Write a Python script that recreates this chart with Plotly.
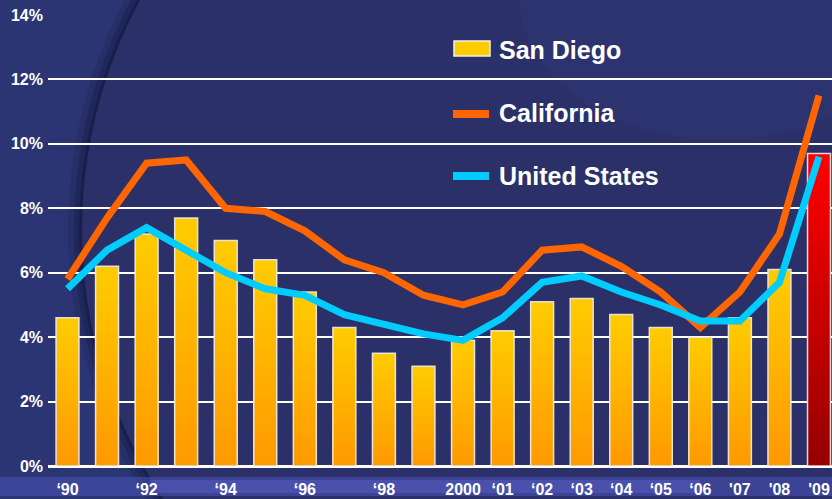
import plotly.graph_objects as go

# ---------------- data ----------------
years = ["1990", "1991", "1992", "1993", "1994", "1995", "1996", "1997", "1998", "1999",
         "2000", "2001", "2002", "2003", "2004", "2005", "2006", "2007", "2008", "2009"]
san_diego = [4.6, 6.2, 7.2, 7.7, 7.0, 6.4, 5.4, 4.3, 3.5, 3.1,
             3.9, 4.2, 5.1, 5.2, 4.7, 4.3, 4.0, 4.6, 6.1, 9.7]
california = [5.8, 7.7, 9.4, 9.5, 8.0, 7.9, 7.3, 6.4, 6.0, 5.3,
              5.0, 5.4, 6.7, 6.8, 6.2, 5.4, 4.3, 5.4, 7.2, 11.5]
united_states = [5.5, 6.7, 7.4, 6.7, 6.0, 5.5, 5.3, 4.7, 4.4, 4.1,
                 3.9, 4.6, 5.7, 5.9, 5.4, 5.0, 4.5, 4.5, 5.7, 9.6]
tick_years = ["1990", "1992", "1994", "1996", "1998", "2000", "2001", "2002", "2003",
              "2004", "2005", "2006", "2007", "2008", "2009"]
tick_labels = ["\u201890", "\u201892", "\u201894", "\u201896", "\u201898", "2000", "\u201801",
               "\u201802", "\u201803", "\u201804", "\u201805", "\u201806", "'07", "'08", "'09"]
y_ticks = [0, 2, 4, 6, 8, 10, 12, 14]
y_tick_labels = ["0%", "2%", "4%", "6%", "8%", "10%", "12%", "14%"]
series_names = ["San Diego", "California", "United States"]

# ---------------- styling ----------------
W, H = 832, 499
FONT = "Liberation Sans, Arial, sans-serif"
YEL_TOP, YEL_BOT = (255, 204, 0), (255, 153, 0)
RED_TOP, RED_BOT = (255, 0, 0), (150, 0, 0)
highlight = {"2009"}


def lerp(c1, c2, t):
    return "rgb(%d,%d,%d)" % tuple(round(a + (b - a) * t) for a, b in zip(c1, c2))


def px_x(p):
    return p / W


def px_y(p):
    return (H - p) / H


fig = go.Figure()

# gradient bars: overlay of progressively shorter bars
N = 24
for k in range(N):
    frac = 1 - k / N
    h = 1 - (k + 0.5) / N
    cols = [lerp(RED_BOT, RED_TOP, h) if yr in highlight else lerp(YEL_BOT, YEL_TOP, h)
            for yr in years]
    fig.add_trace(go.Bar(
        x=years, y=[v * frac for v in san_diego],
        marker=dict(color=cols, line=dict(width=0)),
        showlegend=False, hoverinfo="skip",
    ))
# outline / hover bar
fig.add_trace(go.Bar(
    x=years, y=san_diego, name=series_names[0],
    marker=dict(color="rgba(0,0,0,0)", line=dict(color="rgba(235,235,235,0.9)", width=1.5)),
    showlegend=False,
))
fig.add_trace(go.Scatter(
    x=years, y=california, name=series_names[1], mode="lines",
    line=dict(color="#FF6600", width=7), showlegend=False,
))
fig.add_trace(go.Scatter(
    x=years, y=united_states, name=series_names[2], mode="lines",
    line=dict(color="#00CCFF", width=7), showlegend=False,
))

# ---------------- background shapes ----------------
cx, cy, R = 567, 230, 485
shapes = []
for extra, op in [(14, 0.2), (8, 0.3), (3, 0.45)]:
    shapes.append(dict(type="circle", xref="paper", yref="paper", layer="below",
                       x0=px_x(cx - R - extra), x1=px_x(cx + R + extra),
                       y0=px_y(cy + R + extra), y1=px_y(cy - R - extra),
                       fillcolor="#12163a", opacity=op, line=dict(width=0)))
shapes.append(dict(type="circle", xref="paper", yref="paper", layer="below",
                   x0=px_x(cx - R), x1=px_x(cx + R),
                   y0=px_y(cy + R), y1=px_y(cy - R),
                   fillcolor="#2b3068", line=dict(width=0)))
# soft light glow upper right
shapes.append(dict(type="circle", xref="paper", yref="paper", layer="below",
                   x0=px_x(520), x1=px_x(920), y0=px_y(140), y1=px_y(-140),
                   fillcolor="#3a4290", opacity=0.18, line=dict(width=0)))
# lighter band behind the x labels
shapes.append(dict(type="rect", xref="paper", yref="paper", layer="below",
                   x0=0, x1=1, y0=px_y(496), y1=px_y(477),
                   fillcolor="#4a54b8", opacity=0.55, line=dict(width=0)))
shapes.append(dict(type="rect", xref="paper", yref="paper", layer="below",
                   x0=px_x(150), x1=px_x(700), y0=px_y(493), y1=px_y(480),
                   fillcolor="#5a64cc", opacity=0.45, line=dict(width=0)))

# ---------------- manual legend ----------------
shapes.append(dict(type="rect", xref="paper", yref="paper",
                   x0=px_x(454), x1=px_x(490), y0=px_y(56), y1=px_y(41),
                   fillcolor="#FFCC00", line=dict(color="#f0f0f0", width=1.5)))
shapes.append(dict(type="line", xref="paper", yref="paper",
                   x0=px_x(453), x1=px_x(489), y0=px_y(114), y1=px_y(114),
                   line=dict(color="#FF6600", width=8)))
shapes.append(dict(type="line", xref="paper", yref="paper",
                   x0=px_x(453), x1=px_x(489), y0=px_y(176), y1=px_y(176),
                   line=dict(color="#00CCFF", width=8)))
annotations = []
for name, yc in zip(series_names, [50, 113, 176]):
    annotations.append(dict(text=name, xref="paper", yref="paper", x=px_x(497), y=px_y(yc),
                            xanchor="left", yanchor="middle", showarrow=False,
                            font=dict(family=FONT, size=25, color="white", weight="bold")))

cat_w = (819 - 67.5) / 19
x0_rng = -(67.5 - 48) / cat_w
x1_rng = x0_rng + (W - 48) / cat_w

fig.update_layout(
    template="none",
    width=W, height=H,
    margin=dict(l=0, r=0, t=0, b=0),
    paper_bgcolor="#2c3574",
    plot_bgcolor="rgba(0,0,0,0)",
    barmode="overlay",
    bargap=0.42,
    showlegend=False,
    shapes=shapes,
    annotations=annotations,
    xaxis=dict(
        type="category", domain=[48 / W, 1], range=[x0_rng, x1_rng],
        tickmode="array", tickvals=tick_years, ticktext=tick_labels,
        showgrid=False, zeroline=False, showline=False, ticks="",
        ticklabelstandoff=12, automargin=False,
        tickfont=dict(family=FONT, size=16, color="white", weight="bold"),
    ),
    yaxis=dict(
        domain=[33 / H, (H - 15) / H], range=[0, 14],
        tickmode="array", tickvals=y_ticks, ticktext=y_tick_labels,
        showgrid=True, gridcolor="white", gridwidth=2,
        zeroline=True, zerolinecolor="white", zerolinewidth=2.5,
        showline=False, ticks="", ticklabelstandoff=4, automargin=False,
        tickfont=dict(family=FONT, size=16, color="white", weight="bold"),
    ),
)

fig.write_html(
    "out.html",
    config={"displayModeBar": False},
    post_script="document.body.style.margin='0';document.body.style.overflow='hidden';",
)
